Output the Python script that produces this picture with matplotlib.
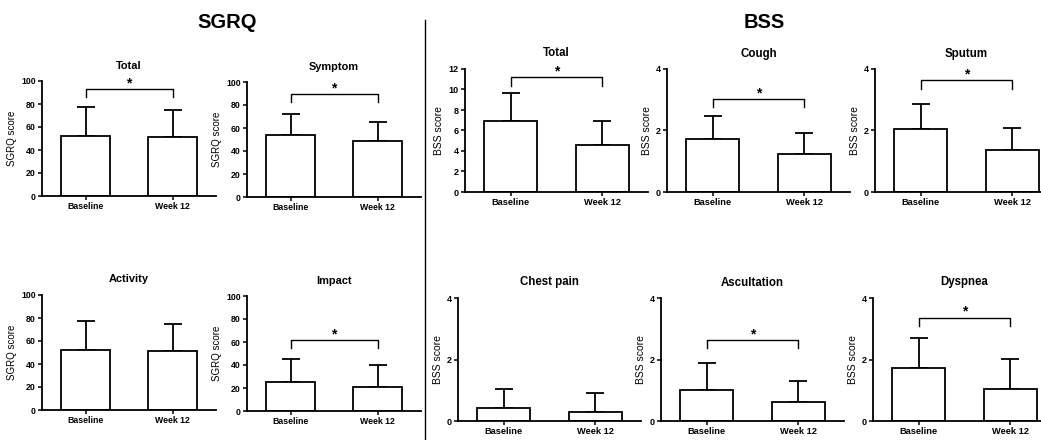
import matplotlib
matplotlib.use("Agg")
import matplotlib.pyplot as plt
from matplotlib.lines import Line2D

plt.rcParams["font.family"] = ["Liberation Sans", "DejaVu Sans"]

W, H = 1041, 440

groups = ["Baseline", "Week 12"]

# SGRQ panels (mean, upper SD end)
sgrq_panels = ["Total", "Symptom", "Activity", "Impact"]
sgrq_baseline = [51.9, 53.9, 52.2, 24.9]
sgrq_baseline_sd = [25.2, 18.3, 24.9, 20.7]
sgrq_week12 = [51.0, 49.0, 51.6, 21.3]
sgrq_week12_sd = [23.5, 16.2, 23.2, 19.1]
sgrq_bracket = [92.8, 89.3, None, 61.4]
sgrq_yticks = [0, 20, 40, 60, 80, 100]

# BSS panels
bss_panels = ["Total", "Cough", "Sputum", "Chest pain", "Ascultation", "Dyspnea"]
bss_baseline = [6.93, 1.73, 2.05, 0.42, 1.00, 1.73]
bss_baseline_sd = [2.70, 0.73, 0.81, 0.61, 0.90, 0.97]
bss_week12 = [4.55, 1.25, 1.38, 0.29, 0.63, 1.03]
bss_week12_sd = [2.38, 0.66, 0.70, 0.61, 0.67, 0.98]
bss_bracket = [11.2, 3.02, 3.63, None, 2.63, 3.36]
bss_yticks = [[0, 2, 4, 6, 8, 10, 12], [0, 2, 4], [0, 2, 4],
              [0, 2, 4], [0, 2, 4], [0, 2, 4]]

# axes boxes in pixels: left, top, width, height
sgrq_boxes = [(42, 81), (247, 82), (42, 295), (247, 296)]
bss_boxes = [(465, 69), (667, 69), (875, 69), (458, 298), (661, 298), (873, 298)]


def px_axes(fig, left, top, w, h):
    return fig.add_axes([left / W, 1 - (top + h) / H, w / W, h / H])


def draw_panel(ax, title, vals, sds, ticks, bracket, ylabel, bar_w, fs):
    x = [0, 1]
    ax.bar(x, vals, width=bar_w, color="white", edgecolor="black",
           linewidth=1.3, zorder=2)
    ax.errorbar(x, vals, yerr=[[0, 0], sds], fmt="none", ecolor="black",
                elinewidth=1.3, capsize=6.5, capthick=1.3, zorder=1)
    ymax = ticks[-1]
    ax.set_ylim(0, ymax)
    ax.set_xlim(-0.5, 1.5)
    ax.set_yticks(ticks)
    ax.set_xticks(x)
    ax.set_xticklabels(groups, fontweight="bold", fontsize=fs["tick"])
    for lab in ax.get_yticklabels():
        lab.set_fontweight("bold")
        lab.set_fontsize(fs["num"])
    ax.tick_params(direction="out", length=3, width=1.1, pad=1.5)
    for s in ["top", "right"]:
        ax.spines[s].set_visible(False)
    for s in ["left", "bottom"]:
        ax.spines[s].set_linewidth(1.3)
    ax.set_ylabel(ylabel, fontsize=fs["ylab"], labelpad=3)
    ax.set_title(title, fontweight="bold", fontsize=fs["title"], pad=9)
    if bracket is not None:
        leg = 0.068 * ymax
        ax.plot([0, 0, 1, 1], [bracket - leg, bracket, bracket, bracket - leg],
                color="black", linewidth=1.0, clip_on=False)
        ax.annotate("*", xy=(0.5, bracket), xytext=(0, 1.5),
                    textcoords="offset points", ha="center", va="baseline",
                    fontsize=10, fontweight="bold", annotation_clip=False)


fig = plt.figure(figsize=(W / 100, H / 100), dpi=100)

sgrq_fs = {"tick": 6.3, "num": 6.3, "ylab": 7, "title": 7.9}
for i, (left, top) in enumerate(sgrq_boxes):
    ax = px_axes(fig, left, top, 174, 115)
    draw_panel(ax, sgrq_panels[i], [sgrq_baseline[i], sgrq_week12[i]],
               [sgrq_baseline_sd[i], sgrq_week12_sd[i]], sgrq_yticks,
               sgrq_bracket[i], "SGRQ score", 0.56, sgrq_fs)

bss_fs = {"tick": 6.7, "num": 6.5, "ylab": 7.5, "title": 8.3}
for i, (left, top) in enumerate(bss_boxes):
    ax = px_axes(fig, left, top, 183, 123)
    draw_panel(ax, bss_panels[i], [bss_baseline[i], bss_week12[i]],
               [bss_baseline_sd[i], bss_week12_sd[i]], bss_yticks[i],
               bss_bracket[i], "BSS score", 0.575, bss_fs)

fig.text(227 / W, 1 - 22 / H, "SGRQ", ha="center", va="center",
         fontsize=14.5, fontweight="bold")
fig.text(764 / W, 1 - 22 / H, "BSS", ha="center", va="center",
         fontsize=14.5, fontweight="bold")

fig.add_artist(Line2D([425 / W, 425 / W], [0, 1 - 20 / H], color="black",
                      linewidth=1.0, transform=fig.transFigure))

fig.savefig("out.png", dpi=100)
